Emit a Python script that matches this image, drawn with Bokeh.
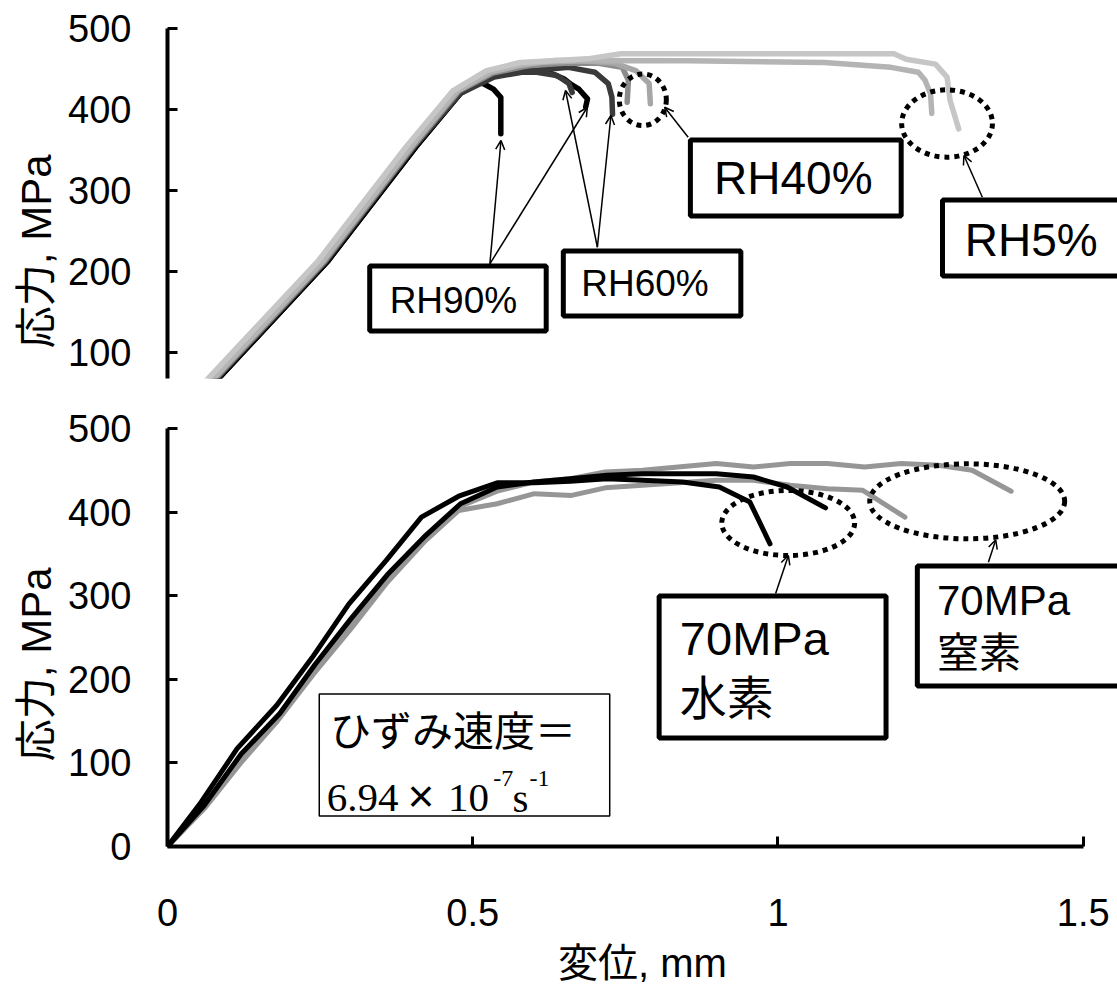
from bokeh.plotting import figure
from bokeh.layouts import column
from bokeh.models import Range1d, FixedTicker, Arrow, OpenHead
from bokeh.core.properties import value
from bokeh.embed import file_html
from bokeh.resources import INLINE

SANS = "'Liberation Sans', 'Noto Sans CJK JP', sans-serif"
SERIF = "'Liberation Serif', serif"

# ---------------- top panel data (humidity series) ----------------
rh90a_x = [0, 0.083, 0.263, 0.406, 0.48, 0.50, 0.517, 0.534, 0.546, 0.546]
rh90a_y = [0, 67, 213, 353, 420, 433, 432, 425, 415, 370]
rh90b_x = [0, 0.083, 0.263, 0.406, 0.48, 0.53, 0.57, 0.605, 0.63, 0.649, 0.663, 0.674, 0.688, 0.685]
rh90b_y = [0, 67, 213, 353, 420, 440, 446, 448, 444, 438, 430, 425, 413, 403]
rh60a_x = [0, 0.08, 0.26, 0.403, 0.48, 0.535, 0.58, 0.605, 0.638, 0.6575, 0.663]
rh60a_y = [0, 67, 213, 353, 420, 440, 446, 446, 442, 432, 421]
rh60b_x = [0, 0.08, 0.26, 0.403, 0.48, 0.535, 0.6, 0.657, 0.70, 0.722, 0.728, 0.729]
rh60b_y = [0, 67, 213, 353, 421, 442, 448, 452, 446, 432, 415, 394]
rh40a_x = [0, 0.078, 0.258, 0.401, 0.478, 0.533, 0.59, 0.65, 0.706, 0.745, 0.755, 0.753]
rh40a_y = [0, 67, 213, 353, 423, 445, 454, 457, 457, 452, 436, 409]
rh40b_x = [0, 0.072, 0.252, 0.395, 0.472, 0.528, 0.585, 0.68, 0.733, 0.767, 0.789, 0.791]
rh40b_y = [0, 67, 213, 353, 423, 447, 457, 460, 457, 448, 432, 407]
rh5a_x = [0, 0.075, 0.255, 0.398, 0.475, 0.53, 0.58, 0.634, 0.854, 1.076, 1.185, 1.230, 1.241, 1.250, 1.252]
rh5a_y = [0, 67, 213, 353, 423, 446, 455, 460.5, 460, 458, 452, 446, 436, 419, 395]
rh5b_x = [0, 0.066, 0.247, 0.390, 0.4675, 0.5226, 0.578, 0.688, 0.743, 1.19, 1.21, 1.258, 1.277, 1.282, 1.296]
rh5b_y = [0, 67, 213, 353, 423, 448, 458, 462.5, 468.7, 468.7, 462, 456, 440, 411, 376]

# ---------------- bottom panel data (70 MPa H2 / N2) ----------------
h2a_x = [0, 0.055, 0.114, 0.179, 0.237, 0.297, 0.358, 0.416, 0.477, 0.540, 0.601, 0.66, 0.72, 0.778, 0.844, 0.904, 0.954, 0.987]
h2a_y = [0, 53, 117, 169, 226, 290, 342, 394, 419, 435, 435, 437, 440, 438, 436, 430, 412, 362]
h2b_x = [0, 0.06, 0.121, 0.184, 0.242, 0.30, 0.36, 0.42, 0.48, 0.54, 0.60, 0.66, 0.72, 0.778, 0.899, 0.960, 1.015, 1.078]
h2b_y = [0, 49, 111, 159, 218, 272, 325, 370, 410, 430, 436, 440, 444, 446, 446, 442, 430, 405]
n2a_x = [0, 0.06, 0.12, 0.18, 0.24, 0.30, 0.36, 0.42, 0.477, 0.540, 0.601, 0.662, 0.717, 0.778, 0.899, 0.960, 1.020, 1.081, 1.139, 1.208]
n2a_y = [0, 45, 100, 150, 207, 260, 316, 364, 402, 410, 422, 420, 429, 432, 438, 438, 432, 428, 426, 394]
n2b_x = [0, 0.06, 0.12, 0.18, 0.24, 0.30, 0.36, 0.42, 0.48, 0.54, 0.60, 0.66, 0.717, 0.778, 0.899, 0.960, 1.020, 1.081, 1.142, 1.202, 1.263, 1.318, 1.382]
n2b_y = [0, 47, 104, 155, 212, 266, 320, 368, 407, 425, 436, 440, 448, 450, 458, 454, 458, 458, 454, 458, 456, 450, 425]

x_ticks = [0, 0.5, 1, 1.5]
x_tick_labels = {0: "0", 0.5: "0.5", 1: "1", 1.5: "1.5"}
y_ticks_top = [100, 200, 300, 400, 500]
y_ticks_bot = [0, 100, 200, 300, 400, 500]

X_END = 1.5562
xr = Range1d(0, X_END)


def style(p):
    p.outline_line_color = None
    p.xgrid.visible = False
    p.ygrid.visible = False
    p.background_fill_color = "white"
    p.border_fill_color = "white"
    for ax in p.axis:
        ax.axis_line_width = 4
        ax.axis_line_color = "black"
        ax.major_tick_in = 10
        ax.major_tick_out = 0
        ax.major_tick_line_width = 3
        ax.major_tick_line_color = "black"
        ax.minor_tick_line_color = None
        ax.major_label_text_font_size = "38px"
        ax.major_label_text_font = "Liberation Sans"
        ax.major_label_text_color = "black"
        ax.axis_label_text_font = SANS
        ax.axis_label_text_font_style = "normal"
        ax.axis_label_text_color = "black"


# ================= top figure =================
p1 = figure(width=1117, height=388, x_range=xr, y_range=Range1d(67.5, 500),
            x_axis_location=None, output_backend="svg", toolbar_location=None,
            min_border_left=167, min_border_right=0, min_border_top=28, min_border_bottom=10)
style(p1)
p1.yaxis.ticker = FixedTicker(ticks=y_ticks_top)
p1.yaxis.major_label_standoff = 36
p1.yaxis.axis_label = "応力, MPa\u3000\u3000\u00a0"
p1.yaxis.axis_label_text_font_size = "42px"
p1.yaxis.axis_label_standoff = 5

top_series = [
    (rh90a_x, rh90a_y, "#000000"), (rh90b_x, rh90b_y, "#000000"),
    (rh60a_x, rh60a_y, "#3a3a3a"), (rh60b_x, rh60b_y, "#3a3a3a"),
    (rh40a_x, rh40a_y, "#8c8c8c"), (rh40b_x, rh40b_y, "#a6a6a6"),
    (rh5a_x, rh5a_y, "#b4b4b4"), (rh5b_x, rh5b_y, "#c6c6c6"),
]
for xs, ys, c in top_series:
    p1.line(xs, ys, line_color=c, line_width=5.5, line_join="round", line_cap="round")

# dotted ellipses
p1.ellipse(x=[0.7786, 1.277], y=[412.0, 382.6], width=[0.0771, 0.1487], height=[63.9, 83.2],
           fill_color=None, line_color="black", line_width=5, line_dash="5 5")

# boxes
p1.rect(x=[0.4758, 0.7938], y=[166.3, 184.9], width=[0.2891, 0.2908], height=[80.3, 80.3],
        fill_color="white", line_color="black", line_width=5)
p1.rect(x=[1.0292, 1.4174], y=[315.3, 241.1], width=[0.3453, 0.2957], height=[93.9, 93.9],
        fill_color="white", line_color="black", line_width=5)
p1.text(x=[0.4683, 0.7822], y=[163.9, 184.5], text=["RH90%", "RH60%"],
        text_font=value("Liberation Sans"), text_font_size="37px",
        text_align="center", text_baseline="middle", text_color="black")
p1.text(x=[1.0251, 1.4149], y=[315.3, 238.6], text=["RH40%", "RH5%"],
        text_font=value("Liberation Sans"), text_font_size="46px",
        text_align="center", text_baseline="middle", text_color="black")

top_arrows = [
    (0.5281, 209.2, 0.5463, 361.6), (0.5281, 209.2, 0.6877, 402.7),
    (0.7042, 229.7, 0.652, 423.4), (0.7042, 229.7, 0.7264, 392.5),
    (0.8529, 365.7, 0.8144, 402.7), (1.3348, 291.5, 1.3046, 343.1),
]
for xs_, ys_, xe, ye in top_arrows:
    p1.add_layout(Arrow(x_start=xs_, y_start=ys_, x_end=xe, y_end=ye, line_width=1.5,
                        end=OpenHead(size=9, line_width=1.5)))

# ================= bottom figure =================
p2 = figure(width=1117, height=600, x_range=xr, y_range=Range1d(0, 500),
            output_backend="svg", toolbar_location=None,
            min_border_left=167, min_border_right=0, min_border_top=40, min_border_bottom=142)
style(p2)
p2.yaxis.ticker = FixedTicker(ticks=y_ticks_bot)
p2.yaxis.major_label_standoff = 36
p2.yaxis.axis_label = "応力, MPa\u3000\u00a0"
p2.yaxis.axis_label_text_font_size = "42px"
p2.yaxis.axis_label_standoff = 5
p2.xaxis.ticker = FixedTicker(ticks=x_ticks)
p2.xaxis.major_label_overrides = x_tick_labels
p2.xaxis.bounds = (0, 1.5)
p2.xaxis.major_label_standoff = 52
p2.xaxis.axis_label = "変位, mm"
p2.xaxis.axis_label_text_font_size = "40px"
p2.xaxis.axis_label_standoff = 12

for xs, ys, c in [(n2a_x, n2a_y, "#969696"), (n2b_x, n2b_y, "#969696"),
                  (h2a_x, h2a_y, "#000000"), (h2b_x, h2b_y, "#000000")]:
    p2.line(xs, ys, line_color=c, line_width=5, line_join="round", line_cap="round")

p2.ellipse(x=[1.0168, 1.310], y=[387.0, 412.9], width=[0.2176, 0.3193], height=[77.8, 89.7],
           fill_color=None, line_color="black", line_width=5, line_dash="5 5")

# strain-rate box (thin border)
p2.rect(x=[0.4865], y=[109.4], width=[0.4758], height=[145.9],
        fill_color="white", line_color="black", line_width=1.5)
p2.text(x=[0.266], y=[137.0], text=["ひずみ速度＝"], text_font=value(SANS),
        text_font_size="41px", text_align="left", text_baseline="middle", text_color="black")
p2.text(x=[0.2610, 0.4593, 0.565], y=[58.6, 58.6, 58.6], text=["6.94", "10", "s"],
        text_font=value(SERIF), text_font_size="41px", text_align="left",
        text_baseline="alphabetic", text_color="black")
p2.text(x=[0.3932], y=[61.0], text=["×"], text_font=value("Liberation Sans"),
        text_font_size="46px", text_align="left", text_baseline="alphabetic", text_color="black")
p2.text(x=[0.5336, 0.593], y=[81.3, 81.3], text=["-7", "-1"], text_font=value(SERIF),
        text_font_size="24px", text_align="left", text_baseline="alphabetic", text_color="black")

# thick boxes
p2.rect(x=[0.9912, 1.3968], y=[214.7, 263.8], width=[0.3717, 0.337], height=[169.9, 143.5],
        fill_color="white", line_color="black", line_width=5)
p2.text(x=[0.8393, 0.8393], y=[249.4, 177.6], text=["70MPa", "水素"], text_font=value(SANS),
        text_font_size="47px", text_align="left", text_baseline="middle", text_color="black")
p2.text(x=[1.2605, 1.2605], y=[294.3, 230.3], text=["70MPa", "窒素"], text_font=value(SANS),
        text_font_size="42px", text_align="left", text_baseline="middle", text_color="black")

for xs_, ys_, xe, ye in [(0.9962, 302.6, 1.0171, 348.1), (1.3447, 340.1, 1.3568, 366.9)]:
    p2.add_layout(Arrow(x_start=xs_, y_start=ys_, x_end=xe, y_end=ye, line_width=1.5,
                        end=OpenHead(size=9, line_width=1.5)))

layout = column(p1, p2)
open("out.html", "w").write(file_html(layout, INLINE))
